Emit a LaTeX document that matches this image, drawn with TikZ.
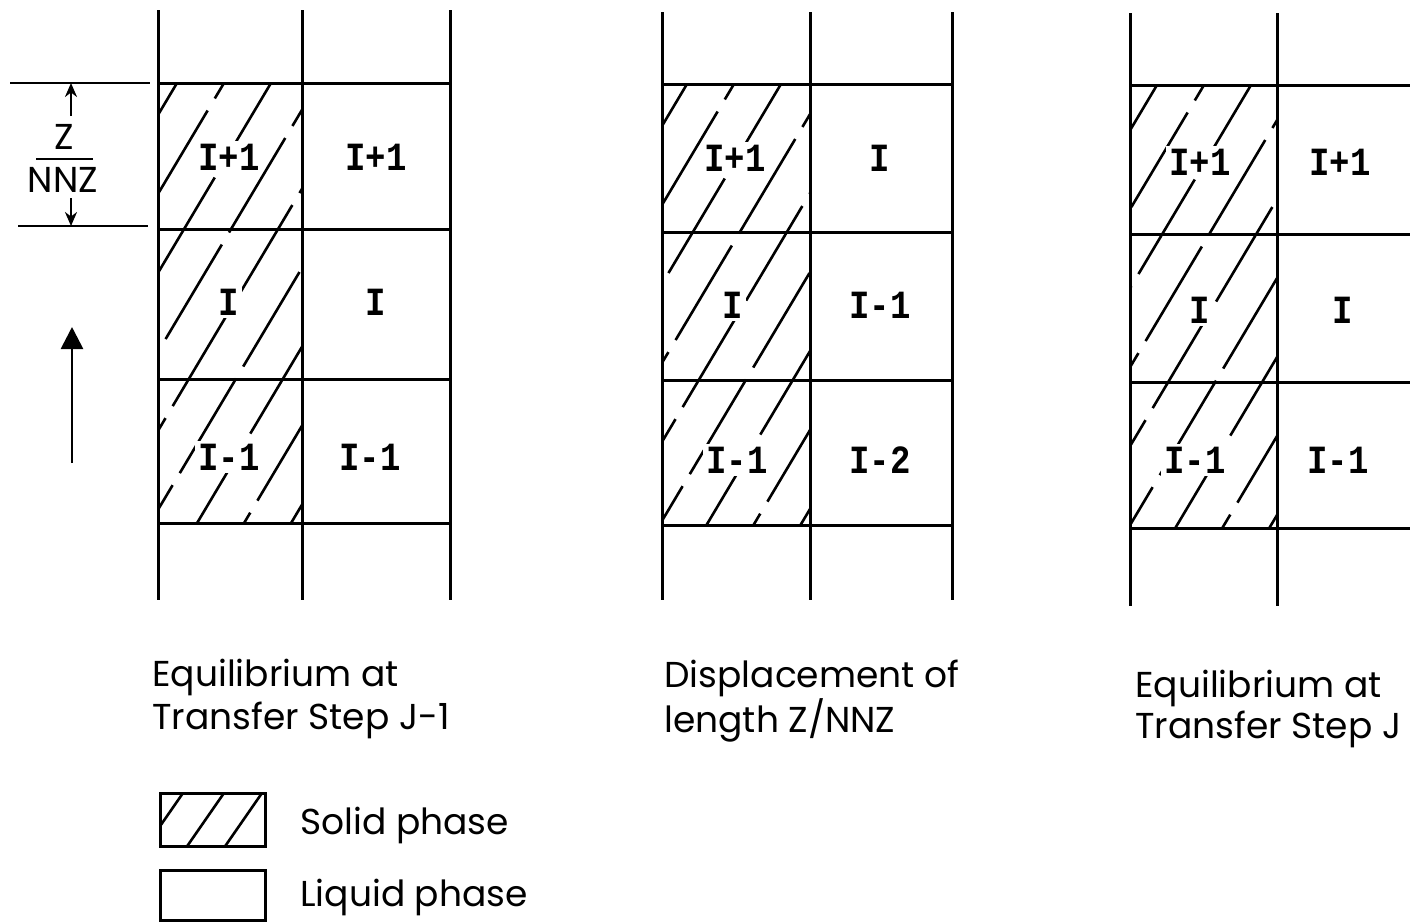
\documentclass[tikz,border=0pt]{standalone}
\usepackage{fontspec}
\setmainfont{Poppins}
\newfontfamily\monof[FakeStretch=0.85]{Liberation Mono}
\usetikzlibrary{arrows.meta}
\tikzset{
  gridln/.style={line width=1.5pt},
  hatchln/.style={line width=1.3pt, dash pattern=on 55pt off 7pt},
  cell/.style={font=\monof\bfseries\fontsize{20}{20}\selectfont, fill=white, inner sep=1.5pt},
  captxt/.style={font=\fontsize{18}{18}\selectfont, anchor=west, inner sep=0pt},
  dimtxt/.style={font=\fontsize{18}{18}\selectfont, inner sep=0pt},
  dimarr/.style={line width=1.2pt, -{Stealth[length=7pt,width=6pt]}},
}
% #1 x-left, #2 y-top, #3 x-right, #4 y-bottom, #5 first hit on top edge
\newcommand\hatchcol[5]{%
  \begin{scope}
    \clip (#1,#2) rectangle (#3,#4);
    \foreach \k in {0,...,10} {
      \draw[hatchln, dash phase={\k*23pt}] ({#5+47*\k},#2) -- ++(-300,504);
    }
  \end{scope}}
\begin{document}
\begin{tikzpicture}[x=0.5pt,y=-0.5pt]
\useasboundingbox (0,0) rectangle (1410,923);

% ---------- left panel ----------
\hatchcol{158}{83}{302}{523}{130}
\foreach \x in {158,302,450} \draw[gridln] (\x,10) -- (\x,600);
\foreach \y in {83,229,379,523} \draw[gridln] (158,\y) -- (450,\y);

% dimension Z/NNZ
\coordinate (dt1) at (10,83);  \coordinate (dt2) at (150,83);
\coordinate (db1) at (18,226); \coordinate (db2) at (148,226);
\draw[line width=1.2pt] (dt1) -- (dt2);
\draw[line width=1.2pt] (db1) -- (db2);
\node[dimtxt] (dz) at (64,137) {Z};
\node[dimtxt] (dn) at (63,180) {NNZ};
\draw[line width=1.2pt] (36,159) -- (93,159);
\coordinate (at) at (71,83); \coordinate (ab) at (71,226);
\coordinate (as1) at (71,116); \coordinate (as2) at (71,198);
\draw[dimarr] (as1) -- (at);
\draw[dimarr] (as2) -- (ab);

% up arrow
\coordinate (ua1) at (72,463); \coordinate (ua2) at (72,327);
\draw[line width=1.4pt, -{Triangle[length=11pt,width=11pt]}] (ua1) -- (ua2);

\node[cell] (l11) at (229,157) {I+1};
\node[cell] (l12) at (376,157) {I+1};
\node[cell] (l21) at (229,302) {I};
\node[cell] (l22) at (376,302) {I};
\node[cell] (l31) at (229,457) {I-1};
\node[cell] (l32) at (370,457) {I-1};

\node[captxt] (c1a) at (152,677) {Equilibrium at};
\node[captxt] (c1b) at (152,720) {Transfer Step J-1};

% ---------- middle panel ----------
\hatchcol{662}{84}{810}{525}{640}
\foreach \x in {662,810,952} \draw[gridln] (\x,12) -- (\x,600);
\foreach \y in {84,232,380,525} \draw[gridln] (662,\y) -- (952,\y);

\node[cell] (m11) at (735,158) {I+1};
\node[cell] (m12) at (880,158) {I};
\node[cell] (m21) at (733,305) {I};
\node[cell] (m22) at (880,305) {I-1};
\node[cell] (m31) at (737,460) {I-1};
\node[cell] (m32) at (880,460) {I-2};

\node[captxt] (c2a) at (664,678) {Displacement of};
\node[captxt] (c2b) at (664,720) {length Z/NNZ};

% ---------- right panel ----------
\hatchcol{1130}{85}{1277}{528}{1110}
\foreach \x in {1130,1277} \draw[gridln] (\x,13) -- (\x,606);
\foreach \y in {85,234,382,528} \draw[gridln] (1130,\y) -- (1410,\y);

\node[cell] (r11) at (1200,162) {I+1};
\node[cell] (r12) at (1340,162) {I+1};
\node[cell] (r21) at (1200,310) {I};
\node[cell] (r22) at (1343,310) {I};
\node[cell] (r31) at (1195,460) {I-1};
\node[cell] (r32) at (1338,460) {I-1};

\node[captxt] (c3a) at (1135,688) {Equilibrium at};
\node[captxt] (c3b) at (1135,729) {Transfer Step J};

% ---------- legend ----------
\begin{scope}
  \clip (160,793) rectangle (265,846);
  \foreach \xx in {183,224,262,302} \draw[line width=1.3pt] (\xx,793) -- ++(-70,101);
\end{scope}
\draw[gridln] (160,793) rectangle (265,846);
\draw[gridln] (160,870) rectangle (265,920);
\node[captxt] (ls) at (300,825) {Solid phase};
\node[captxt] (ll) at (300,897) {Liquid phase};
\end{tikzpicture}
\end{document}
